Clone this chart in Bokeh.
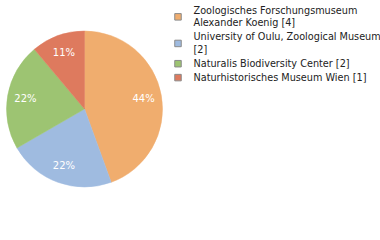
import math
from bokeh.plotting import figure
from bokeh.models import Range1d, ColumnDataSource
from bokeh.core.properties import value
from bokeh.embed import file_html
from bokeh.resources import INLINE

# ---- data ----
names = [
    "Zoologisches Forschungsmuseum Alexander Koenig",
    "University of Oulu, Zoological Museum",
    "Naturalis Biodiversity Center",
    "Naturhistorisches Museum Wien",
]
counts = [4, 2, 2, 1]
colors = ["#F0AD6E", "#9FBBE0", "#9DC472", "#DE7A5E"]
legend_lines = [
    ["Zoologisches Forschungsmuseum", "Alexander Koenig [4]"],
    ["University of Oulu, Zoological Museum", "[2]"],
    ["Naturalis Biodiversity Center [2]"],
    ["Naturhistorisches Museum Wien [1]"],
]

W, H = 380, 240
FONT = "DejaVu Sans"

p = figure(width=W, height=H, output_backend="svg", toolbar_location=None,
           x_range=Range1d(0, W), y_range=Range1d(0, H), min_border=0)
p.axis.visible = False
p.grid.visible = False
p.outline_line_color = None
p.background_fill_color = "white"
p.border_fill_color = "white"

def Y(ypx):
    return H - ypx

cx, cy, R = 84, 108.5, 78
total = sum(counts)
starts, ends, lx, ly, ltxt = [], [], [], [], []
cum = 0
for c in counts:
    a0 = math.pi / 2 - 2 * math.pi * cum / total
    a1 = math.pi / 2 - 2 * math.pi * (cum + c) / total
    starts.append(a0)
    ends.append(a1)
    mid = (a0 + a1) / 2
    lx.append(cx + 60 * math.cos(mid))
    ly.append(Y(cy) + 60 * math.sin(mid))
    ltxt.append("%d%%" % round(100 * c / total))
    cum += c

src = ColumnDataSource(dict(start=starts, end=ends, color=colors))
p.wedge(x=cx, y=Y(cy), radius=R, start_angle="start", end_angle="end",
        direction="clock", fill_color="color", line_color="color",
        line_width=0.5, source=src)

p.text(x=lx, y=ly, text=ltxt, text_color="white", text_font=value(FONT),
       text_font_size="10px", text_align="center", text_baseline="middle")

# ---- legend ----
tx, ty, tt = [], [], []
sx, sy = [], []
y = 9.5
for lines in legend_lines:
    first = y
    for ln in lines:
        tx.append(193)
        ty.append(Y(y))
        tt.append(ln)
        y += 12.7
    last = y - 12.7
    sx.append(177.5)
    sy.append(Y((first + last) / 2 + 0.5))
    y += 1.2

p.rect(x=sx, y=sy, width=6.5, height=6.5, fill_color=colors, line_color="#8a8a8a",
       line_width=1)
p.text(x=tx, y=ty, text=tt, text_color="#222222", text_font=value(FONT),
       text_font_size="9.7px", text_align="left", text_baseline="middle")

open("out.html", "w").write(file_html(p, INLINE))
